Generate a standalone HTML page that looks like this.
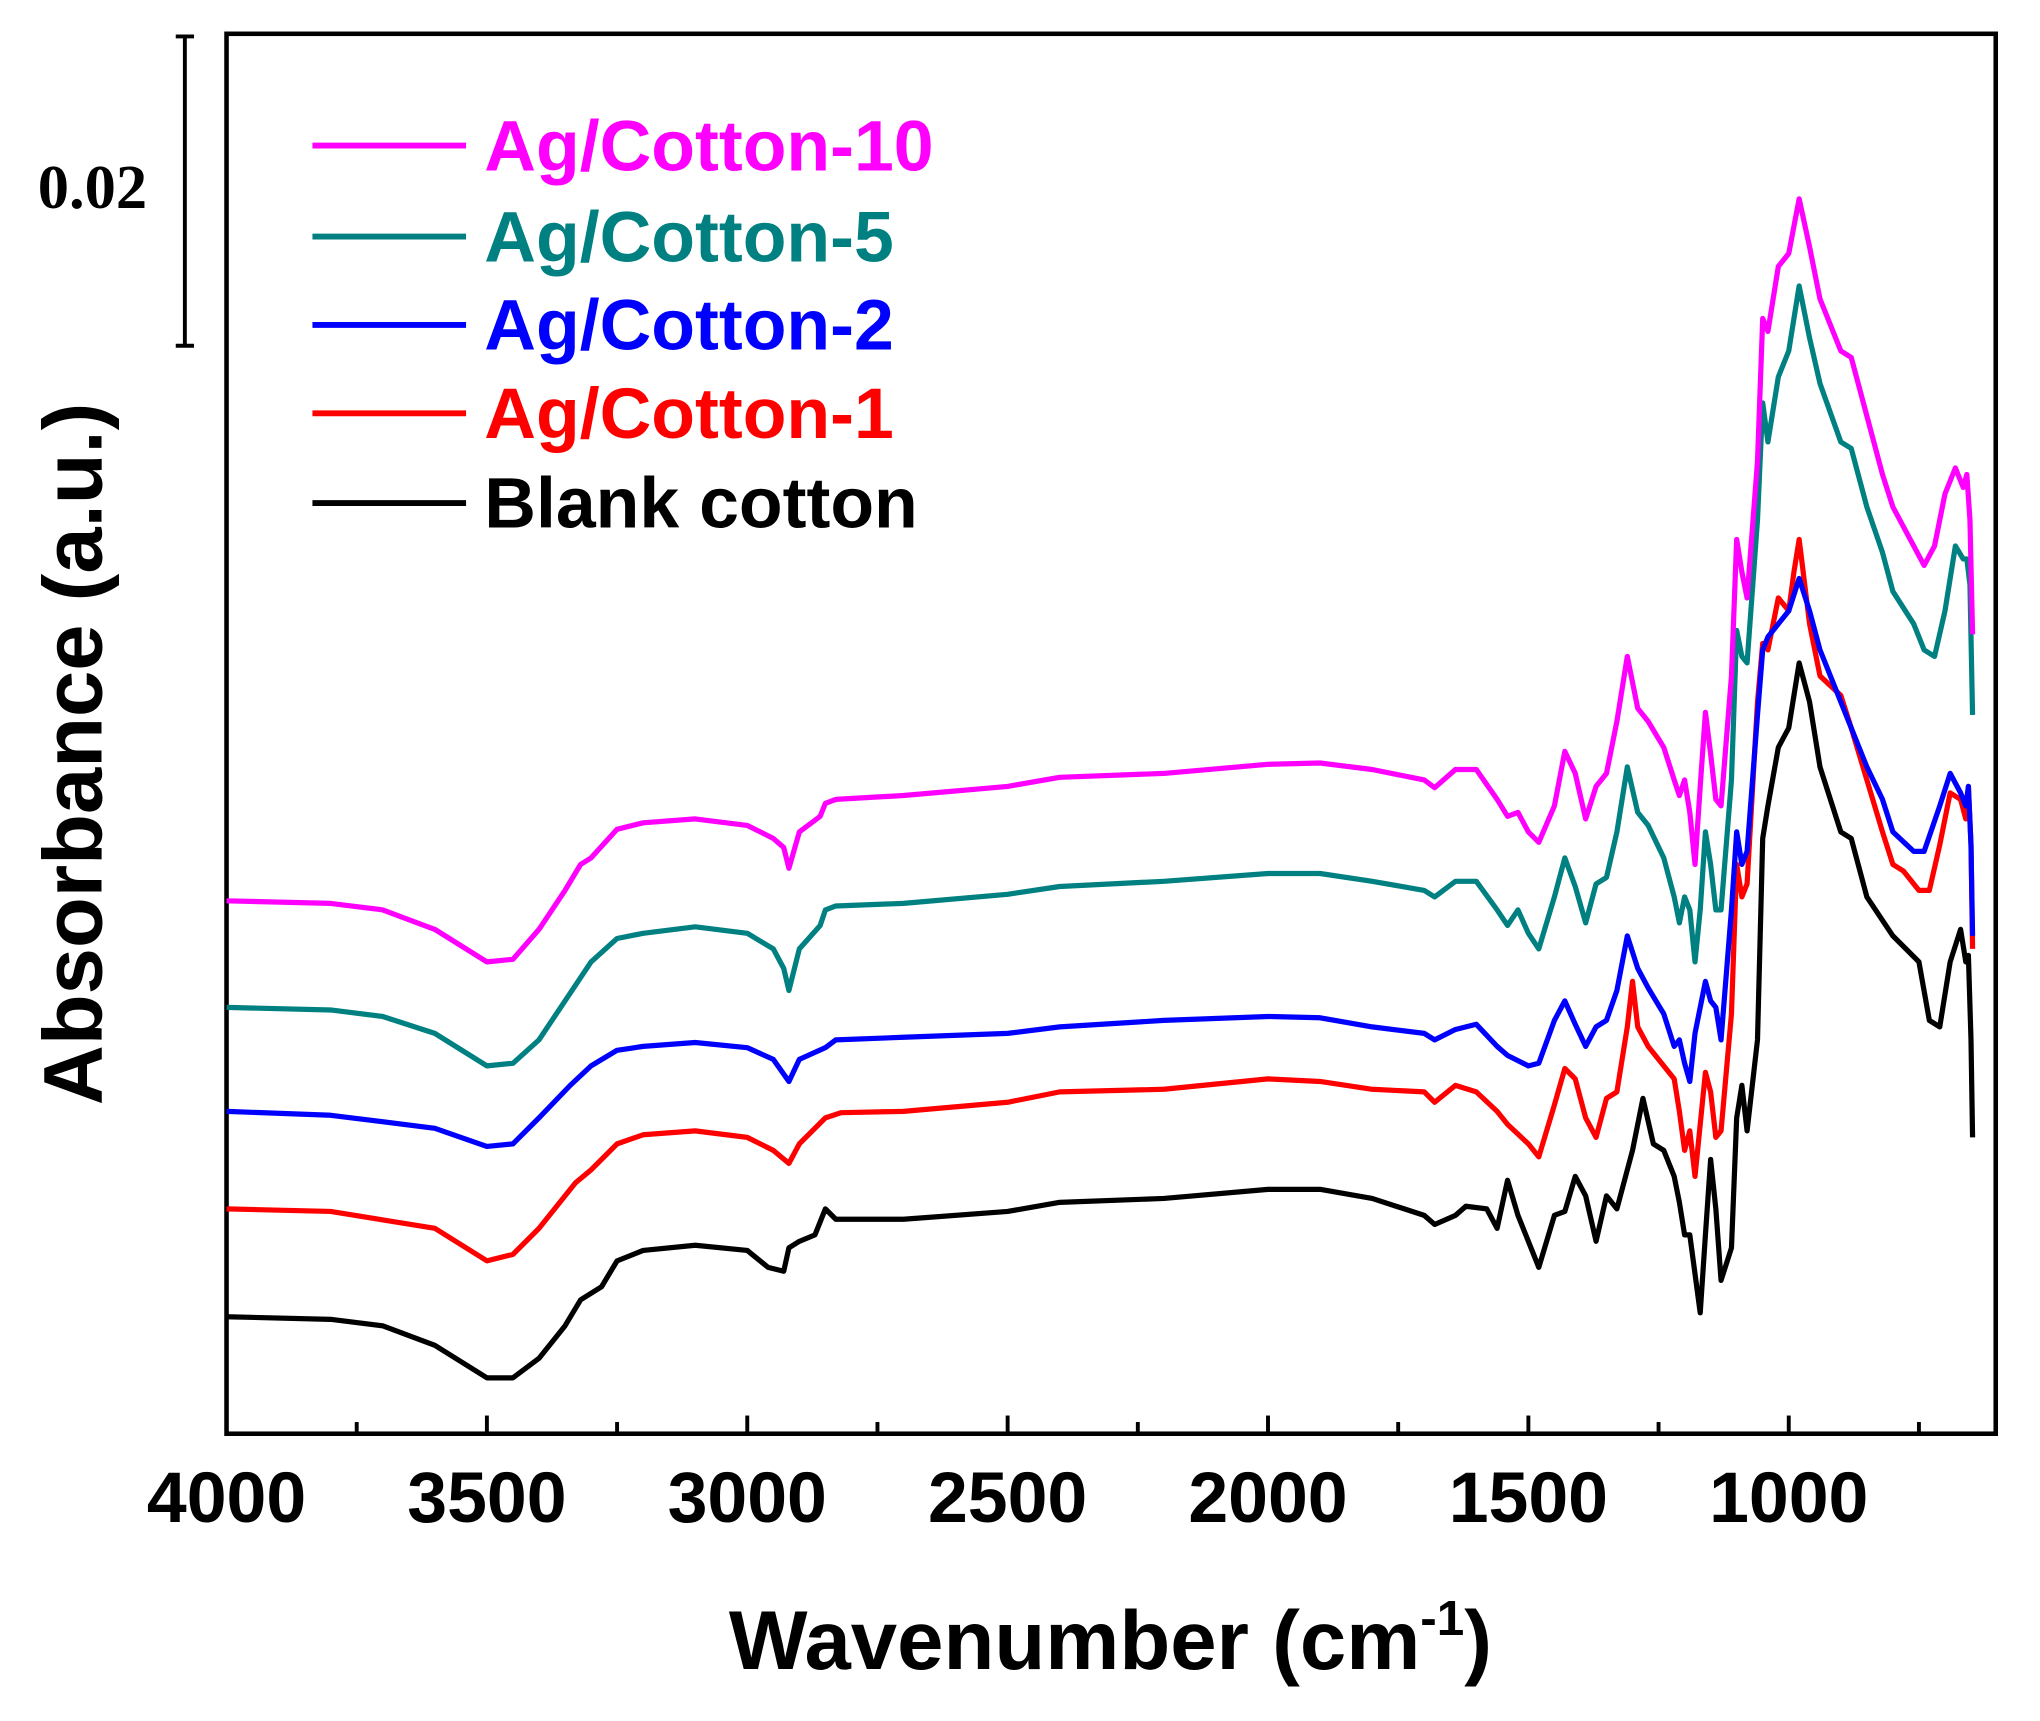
<!DOCTYPE html>
<html><head><meta charset="utf-8">
<style>html,body{margin:0;padding:0;background:#fff;}svg{display:block;}</style>
</head><body>
<svg id="chart" width="2040" height="1721" viewBox="0 0 1567 1324" preserveAspectRatio="none" xmlns="http://www.w3.org/2000/svg">
<rect x="174" y="26" width="1359" height="1077" fill="none" stroke="#000" stroke-width="3.5"/>
<g id="ticks"></g>
<g id="ticklabels" font-family="Liberation Sans, sans-serif" font-weight="bold" font-size="55" text-anchor="middle"></g>
<g id="series"></g>
<g stroke="#000" stroke-width="3">
<line x1="142" y1="28" x2="142" y2="266"/><line x1="135" y1="28" x2="149" y2="28"/><line x1="135" y1="266" x2="149" y2="266"/>
</g>
<text x="71" y="160" text-anchor="middle" font-family="Liberation Serif, serif" font-weight="bold" font-size="48">0.02</text>
<g id="legend" font-family="Liberation Sans, sans-serif" font-weight="bold" font-size="55"></g>
<text x="853" y="1284" text-anchor="middle" font-family="Liberation Sans, sans-serif" font-weight="bold" font-size="64">Wavenumber (cm<tspan dy="-26" font-size="38">-1</tspan><tspan dy="26">)</tspan></text>
<text transform="translate(78,580) rotate(-90)" text-anchor="middle" font-family="Liberation Sans, sans-serif" font-weight="bold" font-size="64">Absorbance (a.u.)</text>
</svg>
<script>
const xTicks=[4000,3500,3000,2500,2000,1500,1000];
const names=["Ag/Cotton-10","Ag/Cotton-5","Ag/Cotton-2","Ag/Cotton-1","Blank cotton"];
const colors=["#ff00ff","#008080","#0000ff","#ff0000","#000000"];
const wnBlack=[4000,3800,3700,3600,3500,3450,3400,3350,3320,3280,3250,3200,3100,3000,2960,2930,2920,2900,2870,2850,2830,2700,2500,2400,2200,2000,1900,1800,1700,1680,1640,1620,1580,1560,1540,1520,1500,1480,1450,1430,1410,1390,1370,1350,1330,1300,1280,1260,1240,1220,1210,1200,1190,1180,1170,1160,1150,1140,1130,1110,1100,1090,1080,1060,1050,1040,1020,1000,980,960,940,900,880,850,800,750,730,710,690,670,660,655,650,647];
const absBlack=[90,88,83,68,43,43,58,83,103,113,133,141,145,141,128,125,143,148,153,173,165,165,171,178,181,188,188,181,168,161,168,175,173,158,195,168,148,128,168,171,198,183,148,183,173,218,258,223,218,198,178,153,153,123,93,153,211,173,118,143,243,268,233,303,458,483,528,543,593,563,513,463,458,413,383,363,318,313,363,388,363,368,303,228];
const wnRed=[4000,3800,3600,3500,3450,3400,3330,3300,3250,3200,3100,3000,2950,2920,2900,2850,2820,2700,2500,2400,2200,2000,1900,1800,1700,1680,1640,1600,1560,1540,1500,1480,1450,1430,1410,1390,1370,1350,1330,1310,1300,1290,1270,1240,1220,1210,1200,1190,1180,1170,1160,1150,1140,1130,1110,1100,1090,1080,1060,1050,1040,1020,1000,990,980,960,940,900,880,850,820,800,780,750,730,710,690,670,660,655,650,647];
const absRed=[173,171,158,133,138,158,193,203,223,230,233,228,218,208,223,243,247,248,255,263,265,273,271,265,263,255,268,263,248,238,223,213,253,281,273,243,228,258,263,313,348,313,298,283,273,248,218,233,198,238,278,263,228,233,323,438,413,423,563,608,603,643,633,663,688,623,583,568,543,503,463,438,433,418,418,453,493,488,473,498,453,373];
const wnBlue=[4000,3800,3600,3500,3450,3400,3340,3300,3250,3200,3100,3000,2950,2920,2900,2850,2830,2700,2500,2400,2200,2000,1900,1800,1700,1680,1640,1600,1560,1540,1500,1480,1450,1430,1410,1390,1370,1350,1330,1310,1290,1270,1240,1220,1210,1200,1190,1180,1160,1150,1140,1130,1110,1100,1090,1080,1060,1050,1040,1020,1000,980,960,940,900,880,850,820,800,760,740,710,690,670,660,655,650,647];
const absBlue=[248,245,235,221,223,243,268,283,295,298,301,297,288,271,288,297,303,305,308,313,318,321,320,313,308,303,311,315,298,291,283,285,318,333,315,298,313,318,341,383,358,343,323,298,303,285,271,308,348,333,328,303,403,463,438,448,553,603,613,623,633,658,633,603,563,543,513,488,463,448,448,483,508,493,483,498,453,383];
const wnTeal=[4000,3800,3700,3600,3500,3450,3400,3350,3300,3250,3200,3100,3000,2950,2930,2920,2900,2860,2850,2830,2700,2500,2400,2200,2000,1900,1800,1700,1680,1640,1600,1560,1540,1520,1500,1480,1450,1430,1410,1390,1370,1350,1330,1310,1290,1270,1240,1220,1210,1200,1190,1180,1170,1160,1150,1140,1130,1110,1100,1090,1080,1060,1050,1040,1020,1000,980,960,940,900,880,850,820,800,760,740,720,700,680,665,658,652,647];
const absTeal=[328,326,321,308,283,285,303,333,363,381,385,390,385,373,358,341,373,391,403,406,408,415,421,425,431,431,425,418,413,425,425,403,391,403,385,373,413,443,421,393,423,428,463,513,478,468,443,413,393,413,403,363,403,463,438,403,403,503,618,598,593,703,793,763,813,833,883,843,808,763,758,713,678,648,623,603,598,633,683,673,673,653,553];
const wnMag=[4000,3800,3700,3600,3500,3450,3400,3350,3320,3300,3250,3200,3100,3000,2950,2930,2920,2900,2860,2850,2830,2700,2500,2400,2200,2000,1900,1800,1700,1680,1640,1600,1560,1540,1520,1500,1480,1450,1430,1410,1390,1370,1350,1330,1310,1290,1270,1240,1220,1210,1200,1190,1180,1170,1160,1150,1140,1130,1110,1100,1090,1080,1060,1050,1040,1020,1000,980,960,940,900,880,850,820,800,760,740,720,700,680,665,658,652,647];
const absMag=[410,408,403,388,363,365,388,418,438,443,465,470,473,468,458,451,435,463,475,485,488,491,498,505,508,515,516,511,503,497,511,511,488,475,478,463,455,483,525,508,473,498,508,548,598,558,548,528,503,491,503,478,438,498,555,523,488,483,583,688,663,643,748,858,848,898,908,950,913,873,833,828,783,738,713,683,668,683,723,743,728,738,703,615];
const wnAll=[wnMag,wnTeal,wnBlue,wnRed,wnBlack];
const absAll=[absMag,absTeal,absBlue,absRed,absBlack];
const NS="http://www.w3.org/2000/svg";
const X0=174,X1=1533,W0=4000,W1=602.5,Y0=1103,KY=1;
function xScale(w){return X0+(W0-w)*(X1-X0)/(W0-W1);}
function yScale(v){return Y0-v*KY;}
const tg=document.getElementById('ticks');
for(let w=4000;w>=750;w-=250){
  const l=document.createElementNS(NS,'line');
  
  
  const major=(w%500===0);
  l.setAttribute('x1',xScale(w));l.setAttribute('x2',xScale(w));
  l.setAttribute('y1',Y0);l.setAttribute('y2',Y0-(major?14:9));
  l.setAttribute('stroke','#000');l.setAttribute('stroke-width','3');
  tg.appendChild(l);
}
const tl=document.getElementById('ticklabels');
xTicks.forEach(w=>{
  const t=document.createElementNS(NS,'text');
  
  
  t.setAttribute('x',xScale(w));t.setAttribute('y',1171);
  t.textContent=w;tl.appendChild(t);
});
const sg=document.getElementById('series');
for(let i=4;i>=0;i--){
  const p=document.createElementNS(NS,'polyline');
  
  
  p.setAttribute('points',wnAll[i].map((w,j)=>xScale(w).toFixed(1)+','+yScale(absAll[i][j]).toFixed(1)).join(' '));
  p.setAttribute('fill','none');p.setAttribute('stroke',colors[i]);
  p.setAttribute('stroke-width','4');p.setAttribute('stroke-linejoin','round');
  sg.appendChild(p);
}
const lg=document.getElementById('legend');
const ly=[112,182,250,318,387];
names.forEach((n,i)=>{
  const l=document.createElementNS(NS,'line');
  
  
  l.setAttribute('x1',240);l.setAttribute('x2',358);l.setAttribute('y1',ly[i]);l.setAttribute('y2',ly[i]);
  l.setAttribute('stroke',colors[i]);l.setAttribute('stroke-width','4.5');
  lg.appendChild(l);
  const t=document.createElementNS(NS,'text');
  
  
  t.setAttribute('x',372);t.setAttribute('y',ly[i]+19);t.setAttribute('fill',colors[i]);
  t.textContent=n;lg.appendChild(t);
});
</script>
</body></html>
